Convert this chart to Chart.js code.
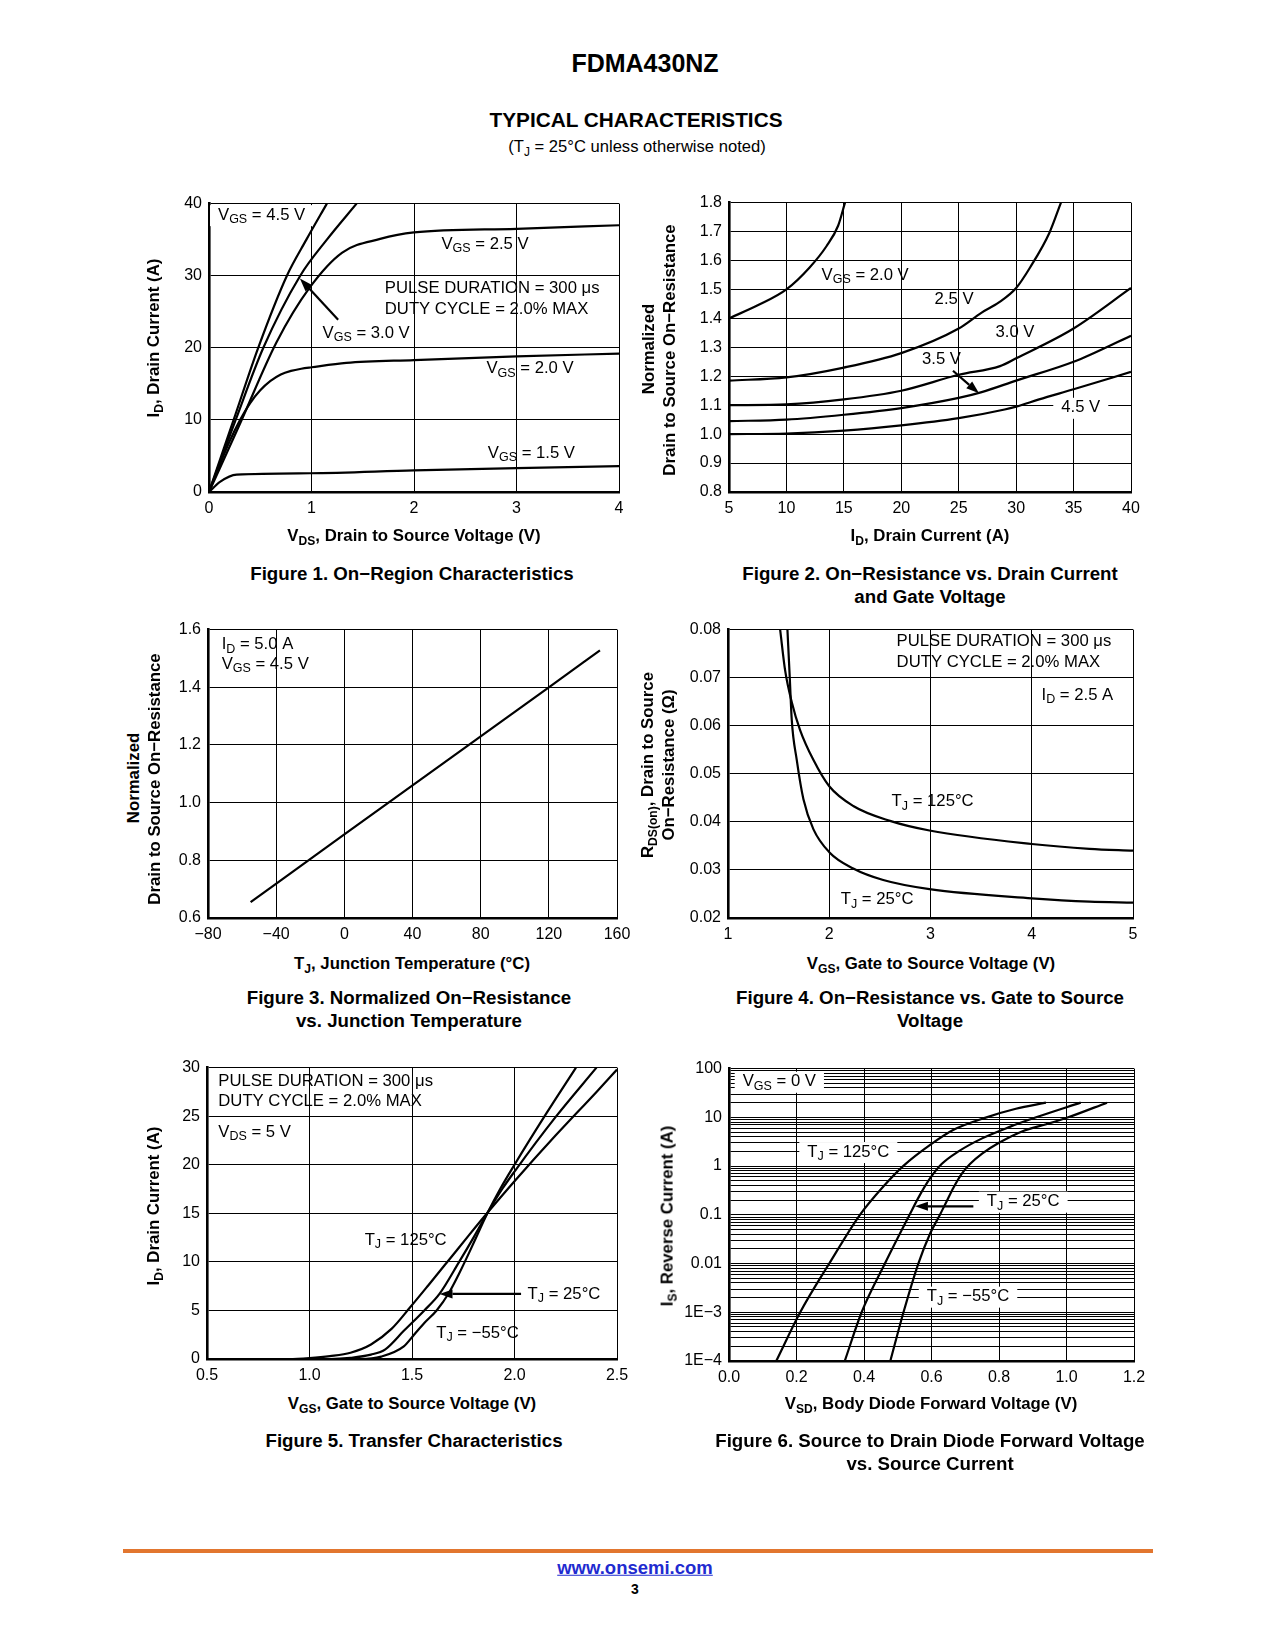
<!DOCTYPE html>
<html><head><meta charset="utf-8">
<script src="https://cdn.jsdelivr.net/npm/chart.js@4.4.1/dist/chart.umd.min.js"></script>
<style>
html,body{margin:0;padding:0;background:#fff;}
body{width:1275px;height:1650px;position:relative;overflow:hidden;font-family:"Liberation Sans",Arial,Helvetica,sans-serif;color:#000;}
.t{position:absolute;white-space:nowrap;line-height:1;}
.c{transform:translate(-50%,-50%);}
.r{transform:translate(-50%,-50%) rotate(-90deg);}
.b{font-weight:bold;}
.ax{font-size:16.8px;font-weight:bold;}
.cap{font-size:18.7px;font-weight:bold;}
sub{font-size:72%;vertical-align:baseline;position:relative;top:0.32em;}
canvas{position:absolute;}
</style></head><body>

<div class="t c b" style="left:645px;top:63px;font-size:25px">FDMA430NZ</div>
<div class="t c b" style="left:636px;top:120px;font-size:20.8px">TYPICAL CHARACTERISTICS</div>
<div class="t c" style="left:637px;top:147px;font-size:16.6px">(T<sub>J</sub> = 25°C unless otherwise noted)</div>

<canvas id="f1"></canvas><canvas id="f2"></canvas><canvas id="f3"></canvas>
<canvas id="f4"></canvas><canvas id="f5"></canvas><canvas id="f6"></canvas>

<!-- axis titles -->
<div class="t r ax" style="left:154px;top:338px">I<sub>D</sub>, Drain Current (A)</div>
<div class="t r ax" style="left:649px;top:349px">Normalized</div>
<div class="t r ax" style="left:670px;top:350px">Drain to Source On−Resistance</div>
<div class="t r ax" style="left:134px;top:778px">Normalized</div>
<div class="t r ax" style="left:155px;top:779px">Drain to Source On−Resistance</div>
<div class="t r ax" style="left:648px;top:765px">R<sub>DS(on)</sub>, Drain to Source</div>
<div class="t r ax" style="left:669px;top:765px">On−Resistance (Ω)</div>
<div class="t r ax" style="left:154px;top:1206px">I<sub>D</sub>, Drain Current (A)</div>
<div class="t r ax" style="left:668px;top:1216px">I<sub>S</sub>, Reverse Current (A)</div>

<div class="t c ax" style="left:414px;top:536px">V<sub>DS</sub>, Drain to Source Voltage (V)</div>
<div class="t c ax" style="left:930px;top:536px">I<sub>D</sub>, Drain Current (A)</div>
<div class="t c ax" style="left:412px;top:964px">T<sub>J</sub>, Junction Temperature (°C)</div>
<div class="t c ax" style="left:931px;top:964px">V<sub>GS</sub>, Gate to Source Voltage (V)</div>
<div class="t c ax" style="left:412px;top:1404px">V<sub>GS</sub>, Gate to Source Voltage (V)</div>
<div class="t c ax" style="left:931px;top:1404px">V<sub>SD</sub>, Body Diode Forward Voltage (V)</div>

<!-- captions -->
<div class="t c cap" style="left:412px;top:574px">Figure 1. On−Region Characteristics</div>
<div class="t c cap" style="left:930px;top:574px">Figure 2. On−Resistance vs. Drain Current</div>
<div class="t c cap" style="left:930px;top:597px">and Gate Voltage</div>
<div class="t c cap" style="left:409px;top:998px">Figure 3. Normalized On−Resistance</div>
<div class="t c cap" style="left:409px;top:1021px">vs. Junction Temperature</div>
<div class="t c cap" style="left:930px;top:998px">Figure 4. On−Resistance vs. Gate to Source</div>
<div class="t c cap" style="left:930px;top:1021px">Voltage</div>
<div class="t c cap" style="left:414px;top:1441px">Figure 5. Transfer Characteristics</div>
<div class="t c cap" style="left:930px;top:1441px">Figure 6. Source to Drain Diode Forward Voltage</div>
<div class="t c cap" style="left:930px;top:1464px">vs. Source Current</div>

<!-- footer -->
<div style="position:absolute;left:123px;top:1549px;width:1030px;height:4px;background:#E2762F"></div>
<div class="t c b" style="left:635px;top:1568px;font-size:18.5px;color:#1f2bd0;text-decoration:underline">www.onsemi.com</div>
<div class="t c b" style="left:635px;top:1589px;font-size:14px">3</div>

<script>
// ===================== DATA =====================
// Figure 1: ID vs VDS  [VDS (V), ID (A)]
const f1Vgs45 = [[0,0],[0.24,10],[0.48,20],[0.76,30],[0.95,35],[1.15,40]];
const f1Vgs30 = [[0,0],[0.26,10],[0.53,20],[0.89,30],[1.15,35],[1.44,40]];
const f1Vgs25 = [[0,0],[0.30,9.4],[0.66,20.8],[0.98,28.3],[1.30,33.2],[1.67,35.1],[2.0,36.0],[3.0,36.5],[4.0,37.0]];
const f1Vgs20 = [[0,0],[0.1,3.6],[0.2,7.0],[0.3,9.9],[0.4,12.3],[0.5,14.1],[0.6,15.4],[0.7,16.3],[0.8,16.8],[0.9,17.1],[1.0,17.3],[1.34,17.9],[2.0,18.3],[3.0,18.8],[4.0,19.2]];
const f1Vgs15 = [[0,0],[0.107,1.4],[0.27,2.4],[0.985,2.6],[2.0,3.0],[3.0,3.3],[4.0,3.6]];
const f1XTicks = [0,1,2,3,4];
const f1XLabels = ['0','1','2','3','4'];
const f1YTicks = [0,10,20,30,40];
const f1YLabels = ['0','10','20','30','40'];

// Figure 2: normalized RDS(on) vs ID  [ID (A), ratio]
const f2Vgs20 = [[5,1.40],[7.5,1.445],[10,1.50],[12,1.575],[13.5,1.65],[14.5,1.72],[15.1,1.80]];
const f2Vgs25 = [[5,1.185],[10,1.196],[15,1.23],[20,1.28],[25,1.365],[27,1.42],[28.5,1.455],[30,1.505],[31.2,1.575],[32.9,1.696],[33.9,1.80]];
const f2Vgs30 = [[5,1.10],[10,1.103],[15,1.12],[20,1.15],[25,1.205],[28.6,1.235],[30,1.262],[35,1.365],[40,1.505]];
const f2Vgs35 = [[5,1.045],[10,1.05],[15,1.067],[20,1.09],[25,1.125],[27,1.145],[30,1.185],[35,1.25],[40,1.34]];
const f2Vgs45 = [[5,1.00],[10,1.002],[15,1.012],[20,1.03],[25,1.055],[29,1.085],[30,1.095],[32,1.12],[35,1.155],[40,1.215]];
const f2XTicks = [5,10,15,20,25,30,35,40];
const f2XLabels = ['5','10','15','20','25','30','35','40'];
const f2YTicks = [0.8,0.9,1.0,1.1,1.2,1.3,1.4,1.5,1.6,1.7,1.8];
const f2YLabels = ['0.8','0.9','1.0','1.1','1.2','1.3','1.4','1.5','1.6','1.7','1.8'];

// Figure 3: normalized RDS(on) vs TJ  [TJ (°C), ratio]
const f3Line = [[-55,0.655],[0,0.89],[120,1.40],[150,1.528]];
const f3XTicks = [-80,-40,0,40,80,120,160];
const f3XLabels = ['−80','−40','0','40','80','120','160'];
const f3YTicks = [0.6,0.8,1.0,1.2,1.4,1.6];
const f3YLabels = ['0.6','0.8','1.0','1.2','1.4','1.6'];

// Figure 4: RDS(on) vs VGS  [VGS (V), ohm]
const f4Tj25 = [[1.587,0.080],[1.61,0.070],[1.63,0.0611],[1.679,0.0529],[1.745,0.0447],[1.843,0.0385],[2.0,0.0337],[2.237,0.0303],[2.533,0.0279],[2.99,0.0260],[4.0,0.0241],[4.57,0.0234],[5.0,0.0232]];
const f4Tj125 = [[1.515,0.080],[1.565,0.0714],[1.63,0.0649],[1.712,0.0591],[1.843,0.0529],[2.0,0.0474],[2.237,0.0433],[2.6,0.0402],[2.99,0.0382],[4.0,0.0354],[4.57,0.0344],[5.0,0.0340]];
const f4XTicks = [1,2,3,4,5];
const f4XLabels = ['1','2','3','4','5'];
const f4YTicks = [0.02,0.03,0.04,0.05,0.06,0.07,0.08];
const f4YLabels = ['0.02','0.03','0.04','0.05','0.06','0.07','0.08'];

// Figure 5: transfer  [VGS (V), ID (A)]
const f5Tj125 = [[0.5,0],[0.9,0],[1.0,0.1],[1.1,0.3],[1.2,0.65],[1.3,1.5],[1.4,3.1],[1.49,5.3],[1.58,7.6],[1.684,10.3],[1.78,12.8],[1.87,15.1],[2.0,18.3],[2.2,23.0],[2.4,27.5],[2.5,29.8]];
const f5Tj25 = [[0.5,0],[1.1,0],[1.2,0.12],[1.3,0.45],[1.37,1.0],[1.46,2.9],[1.56,5.0],[1.634,6.7],[1.73,10],[1.8,12.5],[1.87,15.1],[1.94,17.5],[2.0,19.3],[2.2,24.9],[2.4,30]];
const f5TjM55 = [[0.5,0],[1.25,0],[1.35,0.25],[1.46,1.3],[1.51,2.5],[1.56,3.7],[1.62,5.0],[1.68,6.8],[1.73,8.8],[1.78,11.0],[1.83,13.3],[1.87,15.1],[1.93,17.5],[2.0,20.0],[2.15,25.1],[2.30,30]];
const f5XTicks = [0.5,1.0,1.5,2.0,2.5];
const f5XLabels = ['0.5','1.0','1.5','2.0','2.5'];
const f5YTicks = [0,5,10,15,20,25,30];
const f5YLabels = ['0','5','10','15','20','25','30'];

// Figure 6: diode forward  [VSD (V), IS (A)]
const f6Tj125 = [[0.140,1e-4],[0.211,1e-3],[0.297,0.01],[0.388,0.1],[0.46,0.4],[0.516,1],[0.60,2.85],[0.664,5.5],[0.763,10],[0.85,15],[0.939,20]];
const f6Tj25 = [[0.343,1e-4],[0.393,1e-3],[0.462,0.01],[0.535,0.1],[0.565,0.25],[0.595,0.55],[0.63,1.1],[0.68,2.0],[0.75,3.7],[0.83,6.3],[0.91,10],[1.042,20]];
const f6TjM55 = [[0.478,1e-4],[0.517,1e-3],[0.561,0.01],[0.595,0.04],[0.625,0.1],[0.645,0.19],[0.665,0.36],[0.69,0.7],[0.714,1.1],[0.75,1.8],[0.80,3.0],[0.87,5.2],[0.94,7.2],[1.005,10],[1.12,20]];
const f6XTicks = [0,0.2,0.4,0.6,0.8,1.0,1.2];
const f6XLabels = ['0.0','0.2','0.4','0.6','0.8','1.0','1.2'];
const f6Decades = [1e-4,1e-3,0.01,0.1,1,10];
const f6DecadeLabels = ['1E−4','1E−3','0.01','0.1','1','10','100'];
const f6Mantissas = [1,2,3,4,5,6,7,8,9];

// ===================== RENDERING =====================
const FONT = '"Liberation Sans", Arial, sans-serif';
const MAIN = 16.7, SUB = 12.5;
Chart.defaults.font.family = FONT;
Chart.defaults.color = '#000';
Chart.defaults.animation = false;

const PAD = {l:62, t:14, r:24, b:34};

function rich(ctx, parts, x, y, draw) {
  let cx = x;
  for (const [t, s] of parts) {
    ctx.font = (s ? SUB : MAIN) + 'px ' + FONT;
    if (draw) ctx.fillText(t, cx, y + (s ? 4.5 : 0));
    cx += ctx.measureText(t).width;
  }
  return cx - x;
}
const annot = {
  id: 'annot',
  beforeDatasetsDraw(chart, a, o) {
    const ctx = chart.ctx, xs = chart.scales.x, ys = chart.scales.y;
    ctx.save();
    for (const l of (o.labels || [])) {
      if (!l.bg) continue;
      const x = xs.getPixelForValue(l.at[0]), y = ys.getPixelForValue(l.at[1]);
      const w = rich(ctx, l.parts, x, y, false);
      ctx.fillStyle = '#fff';
      ctx.fillRect(x - 8, y - 10, w + 16, 21);
    }
    ctx.restore();
  },
  afterDatasetsDraw(chart, a, o) {
    const ctx = chart.ctx, xs = chart.scales.x, ys = chart.scales.y;
    ctx.save();
    ctx.fillStyle = '#000'; ctx.strokeStyle = '#000';
    ctx.textBaseline = 'middle'; ctx.textAlign = 'left';
    for (const l of (o.labels || [])) {
      rich(ctx, l.parts, xs.getPixelForValue(l.at[0]), ys.getPixelForValue(l.at[1]), true);
    }
    for (const ar of (o.arrows || [])) {
      const x1 = xs.getPixelForValue(ar.from[0]), y1 = ys.getPixelForValue(ar.from[1]);
      const x2 = xs.getPixelForValue(ar.to[0]), y2 = ys.getPixelForValue(ar.to[1]);
      const ang = Math.atan2(y2 - y1, x2 - x1), L = 13, Wd = 4.5;
      const bx = x2 - L * Math.cos(ang), by = y2 - L * Math.sin(ang);
      ctx.lineWidth = 2.2;
      ctx.beginPath(); ctx.moveTo(x1, y1); ctx.lineTo(bx, by); ctx.stroke();
      ctx.beginPath(); ctx.moveTo(x2, y2);
      ctx.lineTo(bx + Wd * Math.sin(ang), by - Wd * Math.cos(ang));
      ctx.lineTo(bx - Wd * Math.sin(ang), by + Wd * Math.cos(ang));
      ctx.closePath(); ctx.fill();
    }
    ctx.restore();
  }
};

function axis(pos, type, min, max, vals, labels) {
  return {
    type, position: pos, min, max, bounds: 'data',
    afterBuildTicks: s => { s.ticks = vals.map(v => ({value: v})); },
    afterFit: s => { if (pos === 'left') s.width = PAD.l; else s.height = PAD.b; },
    ticks: { autoSkip: false, maxRotation: 0, minRotation: 0, padding: 7,
      font: {size: 16, family: FONT}, color: '#000',
      callback: (v, i) => labels[i] },
    grid: { color: '#000', lineWidth: 1, drawTicks: false },
    border: { display: true, color: '#000', width: 2.6 }
  };
}
function ds(pts) {
  return { data: pts.map(([x, y]) => ({x, y})), showLine: true, borderColor: '#000', borderWidth: 2.2,
    pointRadius: 0, fill: false, cubicInterpolationMode: 'monotone' };
}
function make(id, area, xAx, yAx, series, ann) {
  const cv = document.getElementById(id);
  const W = area.R - area.L + PAD.l + PAD.r, H = area.B - area.T + PAD.t + PAD.b;
  cv.style.left = (area.L - PAD.l) + 'px'; cv.style.top = (area.T - PAD.t) + 'px';
  cv.style.width = W + 'px'; cv.style.height = H + 'px';
  cv.width = W; cv.height = H;
  new Chart(cv, {
    type: 'scatter',
    data: { datasets: series.map(ds) },
    options: {
      responsive: false, animation: false, events: [],
      layout: { padding: {left: 0, top: PAD.t, right: PAD.r, bottom: 0} },
      scales: { x: xAx, y: yAx },
      plugins: { legend: {display: false}, tooltip: {enabled: false}, annot: ann }
    },
    plugins: [annot]
  });
}
const V = v => [['V',0],['GS',1],[' = ' + v,0]];
const T = t => [['T',0],['J',1],[' = ' + t,0]];
const P = s => [[s,0]];

make('f1', {L:209, T:201, R:619, B:492},
  axis('bottom', 'linear', 0, 4, f1XTicks, f1XLabels),
  axis('left', 'linear', 0, 40, f1YTicks, f1YLabels),
  [f1Vgs45, f1Vgs30, f1Vgs25, f1Vgs20, f1Vgs15],
  { labels: [
      {at:[0.088,38.4], parts:V('4.5 V'), bg:true},
      {at:[2.268,34.4], parts:V('2.5 V')},
      {at:[1.715,28.2], parts:P('PULSE DURATION = 300 μs')},
      {at:[1.715,25.3], parts:P('DUTY CYCLE = 2.0% MAX')},
      {at:[1.108,22.0], parts:V('3.0 V')},
      {at:[2.707,17.1], parts:V('2.0 V')},
      {at:[2.72,5.4], parts:V('1.5 V')} ],
    arrows: [{from:[1.26,23.9], to:[0.887,29.6]}] });

make('f2', {L:729, T:200, R:1131, B:492},
  axis('bottom', 'linear', 5, 40, f2XTicks, f2XLabels),
  axis('left', 'linear', 0.8, 1.8, f2YTicks, f2YLabels),
  [f2Vgs20, f2Vgs25, f2Vgs30, f2Vgs35, f2Vgs45],
  { labels: [
      {at:[13.06,1.549], parts:V('2.0 V')},
      {at:[22.9,1.464], parts:P('2.5 V')},
      {at:[28.2,1.353], parts:P('3.0 V')},
      {at:[21.8,1.257], parts:P('3.5 V')},
      {at:[33.93,1.091], parts:P('4.5 V'), bg:true} ],
    arrows: [{from:[24.5,1.219], to:[26.77,1.141]}] });

make('f3', {L:208, T:627, R:617, B:918},
  axis('bottom', 'linear', -80, 160, f3XTicks, f3XLabels),
  axis('left', 'linear', 0.6, 1.6, f3YTicks, f3YLabels),
  [f3Line],
  { labels: [
      {at:[-72,1.548], parts:[['I',0],['D',1],[' = 5.0 A',0]]},
      {at:[-72,1.480], parts:V('4.5 V')} ] });

make('f4', {L:728, T:627, R:1133, B:918},
  axis('bottom', 'linear', 1, 5, f4XTicks, f4XLabels),
  axis('left', 'linear', 0.02, 0.08, f4YTicks, f4YLabels),
  [f4Tj25, f4Tj125],
  { labels: [
      {at:[2.665,0.0775], parts:P('PULSE DURATION = 300 μs')},
      {at:[2.665,0.0731], parts:P('DUTY CYCLE = 2.0% MAX')},
      {at:[4.097,0.0664], parts:[['I',0],['D',1],[' = 2.5 A',0]]},
      {at:[2.616,0.0442], parts:T('125°C')},
      {at:[2.113,0.0238], parts:T('25°C')} ] });

make('f5', {L:207, T:1065, R:617, B:1359},
  axis('bottom', 'linear', 0.5, 2.5, f5XTicks, f5XLabels),
  axis('left', 'linear', 0, 30, f5YTicks, f5YLabels),
  [f5Tj125, f5Tj25, f5TjM55],
  { labels: [
      {at:[0.555,28.57], parts:P('PULSE DURATION = 300 μs')},
      {at:[0.555,26.53], parts:P('DUTY CYCLE = 2.0% MAX')},
      {at:[0.555,23.37], parts:[['V',0],['DS',1],[' = 5 V',0]]},
      {at:[1.269,12.21], parts:T('125°C')},
      {at:[2.064,6.7], parts:T('25°C')},
      {at:[1.618,2.68], parts:T('−55°C')} ],
    arrows: [{from:[2.032,6.7], to:[1.634,6.7]}] });

// log ticks built from decades x mantissas
const f6YTicks = [], f6YLabels = [];
f6Decades.forEach((d, i) => f6Mantissas.forEach(m => {
  f6YTicks.push(+(d * m).toPrecision(3)); f6YLabels.push(m === 1 ? f6DecadeLabels[i] : '');
}));
f6YTicks.push(100); f6YLabels.push(f6DecadeLabels[f6DecadeLabels.length - 1]);

make('f6', {L:729, T:1066, R:1134, B:1361},
  axis('bottom', 'linear', 0, 1.2, f6XTicks, f6XLabels),
  axis('left', 'logarithmic', 1e-4, 100, f6YTicks, f6YLabels),
  [f6Tj125, f6Tj25, f6TjM55],
  { labels: [
      {at:[0.0406,53.7], parts:V('0 V'), bg:true},
      {at:[0.232,1.94], parts:T('125°C'), bg:true},
      {at:[0.764,0.186], parts:T('25°C'), bg:true},
      {at:[0.586,0.00209], parts:T('−55°C'), bg:true} ],
    arrows: [{from:[0.724,0.1496], to:[0.551,0.1496]}] });
</script>
</body></html>
